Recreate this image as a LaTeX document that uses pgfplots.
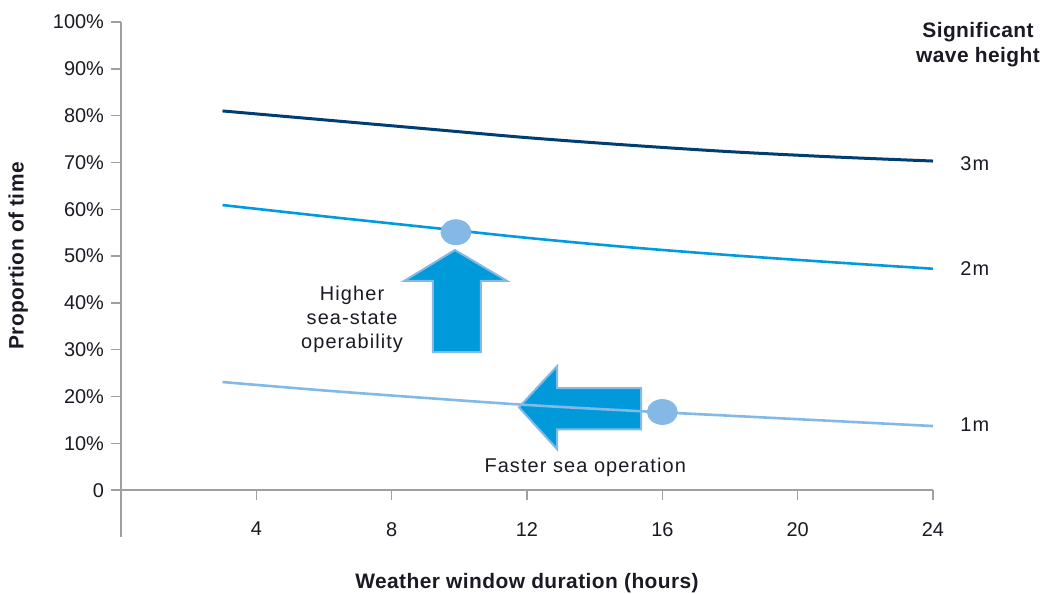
\documentclass[border=0pt]{standalone}
\usepackage{pgfplots}
\pgfplotsset{compat=1.18}
\usepackage{fontspec}
\setmainfont{Liberation Sans}
\newfontfamily\widefont[LetterSpace=5.5]{Liberation Sans}
\newfontfamily\boldfont[LetterSpace=2,BoldFont={Liberation Sans Bold}]{Liberation Sans}

\definecolor{navy}{RGB}{0,61,115}
\definecolor{midblue}{RGB}{0,155,222}
\definecolor{lightblue}{RGB}{130,185,230}
\definecolor{arrowblue}{RGB}{0,154,218}
\definecolor{dotblue}{RGB}{133,184,228}
\definecolor{axgray}{RGB}{160,160,160}
\definecolor{txt}{RGB}{26,26,36}

\begin{document}
\begin{tikzpicture}
\path[use as bounding box] (-60.5bp,-28.5bp) rectangle (460.5bp,268.5bp);
\begin{axis}[
  scale only axis,
  width=406bp, height=257.5bp,
  xmin=0, xmax=24, ymin=-10, ymax=100,
  axis x line*=middle, axis y line*=left,
  axis line style={axgray, line width=0.75bp, -},
  xtick={4,8,12,16,20,24},
  ytick={0,10,20,30,40,50,60,70,80,90,100},
  yticklabels={0,10\%,20\%,30\%,40\%,50\%,60\%,70\%,80\%,90\%,100\%},
  tick style={axgray, line width=0.75bp},
  tick align=outside,
  major tick length=5bp,
  ticklabel style={font=\fontsize{10}{12}\selectfont, text=txt},
  xticklabel style={yshift=-7.5bp},
  /pgf/number format/assume math mode=true,
  clip=false,
]

% arrows
\addplot[fill=arrowblue, draw=lightblue, line width=1bp] coordinates {
 (9.87,51.3) (11.41,44.7) (10.64,44.7) (10.64,29.5) (9.22,29.5) (9.22,44.7) (8.37,44.7)
} -- cycle;
\addplot[fill=arrowblue, draw=lightblue, line width=1bp] coordinates {
 (11.76,17.7) (12.89,26.5) (12.89,21.8) (15.37,21.8) (15.37,13.0) (12.89,13.0) (12.89,8.76)
} -- cycle;

% markers
\addplot[only marks, color=dotblue, mark=*, mark size=6.25bp,
  mark options={fill=dotblue, draw=dotblue, xscale=1.2}]
coordinates {(9.9,55.1) (16.0,16.7)};

% 3m
\addplot[navy, line width=1.5bp, smooth] coordinates {
 (3,81.0) (6,79.1) (9,77.2) (12,75.3) (15,73.7) (18,72.3) (21,71.2) (24,70.3)
};
% 2m
\addplot[midblue, line width=1.3bp, smooth] coordinates {
 (3,60.9) (6,58.5) (9,56.2) (12,53.9) (15,51.9) (18,50.2) (21,48.7) (24,47.3)
};
% 1m
\addplot[lightblue, line width=1.3bp, smooth] coordinates {
 (3,23.1) (6,21.3) (9,19.7) (12,18.2) (15,17.0) (18,15.9) (21,14.8) (24,13.7)
};

\node[font=\widefont\fontsize{10}{12}\selectfont, text=txt, anchor=west, inner sep=0pt] at (axis cs:24.8,69.7) {3m};
\node[font=\widefont\fontsize{10}{12}\selectfont, text=txt, anchor=west, inner sep=0pt] at (axis cs:24.8,47.4) {2m};
\node[font=\widefont\fontsize{10}{12}\selectfont, text=txt, anchor=west, inner sep=0pt] at (axis cs:24.8,13.9) {1m};

\node[font=\boldfont\bfseries\fontsize{10.5}{12.5}\selectfont, text=txt, align=center] at (axis cs:25.33,95.1) {Significant\\wave height};

\node[font=\widefont\fontsize{10}{12}\selectfont, text=txt, align=center] at (axis cs:6.83,36.5) {Higher\\sea-state\\operability};
\node[font=\widefont\fontsize{10}{12}\selectfont, text=txt] at (axis cs:13.72,4.9) {Faster sea operation};

\node[font=\boldfont\bfseries\fontsize{10.5}{12}\selectfont, text=txt] at (axis cs:12,-19.9) {Weather window duration (hours)};
\node[font=\boldfont\bfseries\fontsize{10.5}{12}\selectfont, text=txt, rotate=90] at (axis cs:-3.04,50) {Proportion of time};

\end{axis}
\end{tikzpicture}
\end{document}
